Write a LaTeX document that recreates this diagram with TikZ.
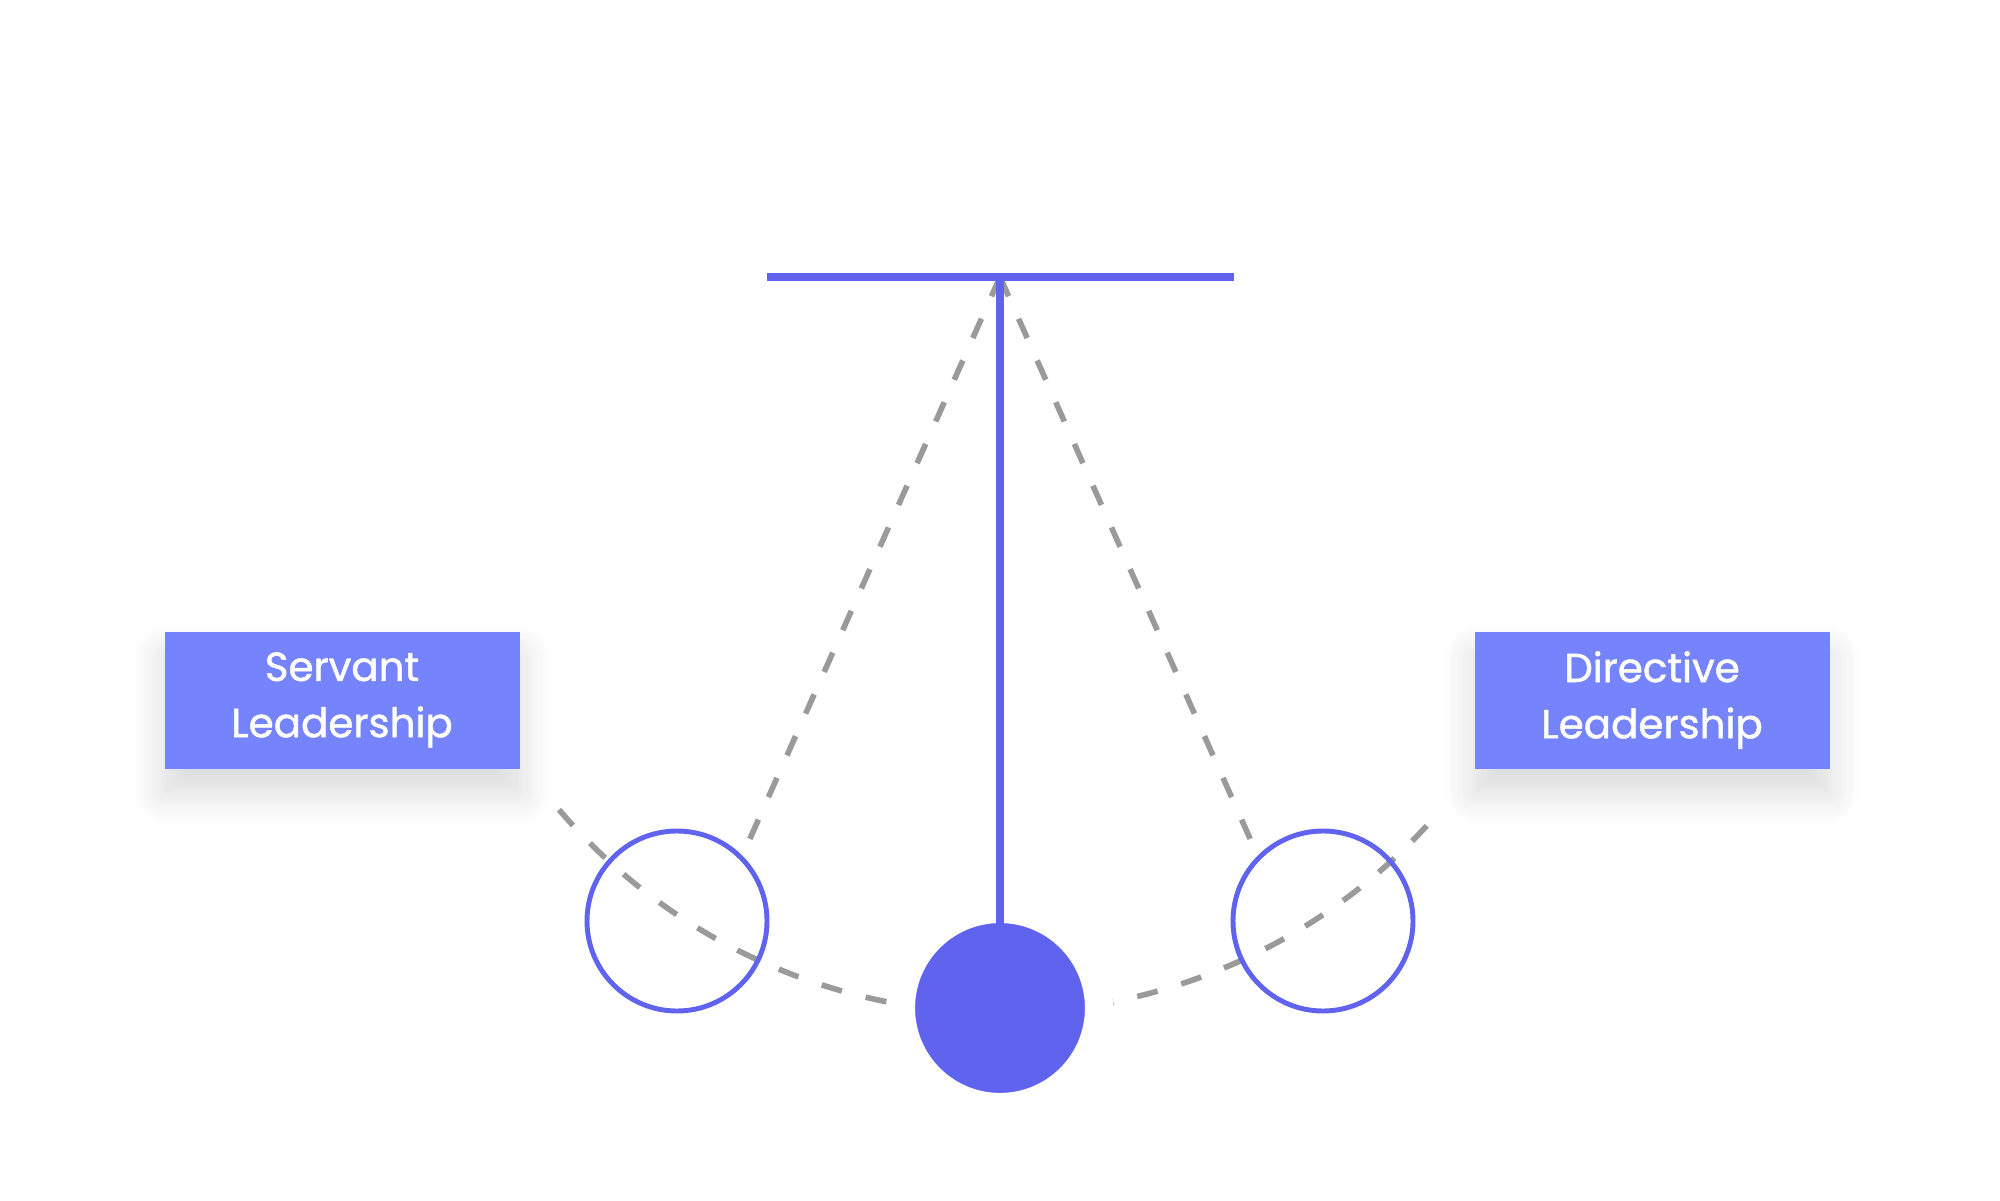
\documentclass[tikz,border=0pt]{standalone}
\usepackage{fontspec}
\setmainfont{Poppins}
\newfontfamily\boxfont{Poppins}[FakeBold=1.2]
\usetikzlibrary{positioning, shadows.blur}
\definecolor{pendblue}{HTML}{5F63EE}
\definecolor{boxblue}{HTML}{7584FC}
\definecolor{dashgray}{HTML}{9A9A9A}
\tikzset{
  label box/.style={fill=boxblue, minimum width=3.55cm, minimum height=1.37cm, align=center,
    text=white, font=\boxfont\fontsize{11.5pt}{16pt}\selectfont,
    blur shadow={shadow xshift=0pt, shadow yshift=-7pt, shadow blur radius=9pt, shadow opacity=15, shadow blur steps=12}},
  swing/.style={dashgray, line width=1.6pt, dash pattern=on 6pt off 7pt},
  bob/.style={circle, draw=pendblue, line width=1.4pt, minimum size=1.8cm},
}
\begin{document}
\begin{tikzpicture}
    \useasboundingbox (0,0) rectangle (20,12);
    \coordinate (pivot) at (10.0,9.23);
    % swing arc
    \draw[swing] (10.0,7.67) ++(220.5:5.80) arc (220.5:319.5:5.80);
    \node[bob] (left) at (6.77,2.79) {};
    \node[bob] (right) at (13.23,2.79) {};
    \draw[swing] (pivot) -- (left.north east);
    \draw[swing] (pivot) -- (right.north west);
    % bar and rod
    \draw[pendblue, line width=2pt] (7.67,9.23) -- (12.34,9.23);
    \node[circle, fill=pendblue, draw=white, line width=8pt, minimum size=1.98cm] (ball) at (10.0,1.92) {};
    \draw[pendblue, line width=2pt] (pivot) -- (ball.center);
    \node[label box] (servant) at (3.42,5.0) {Servant\\Leadership};
    \node[label box] (directive) at (16.52,5.0) {Directive\\Leadership};
\end{tikzpicture}
\end{document}
